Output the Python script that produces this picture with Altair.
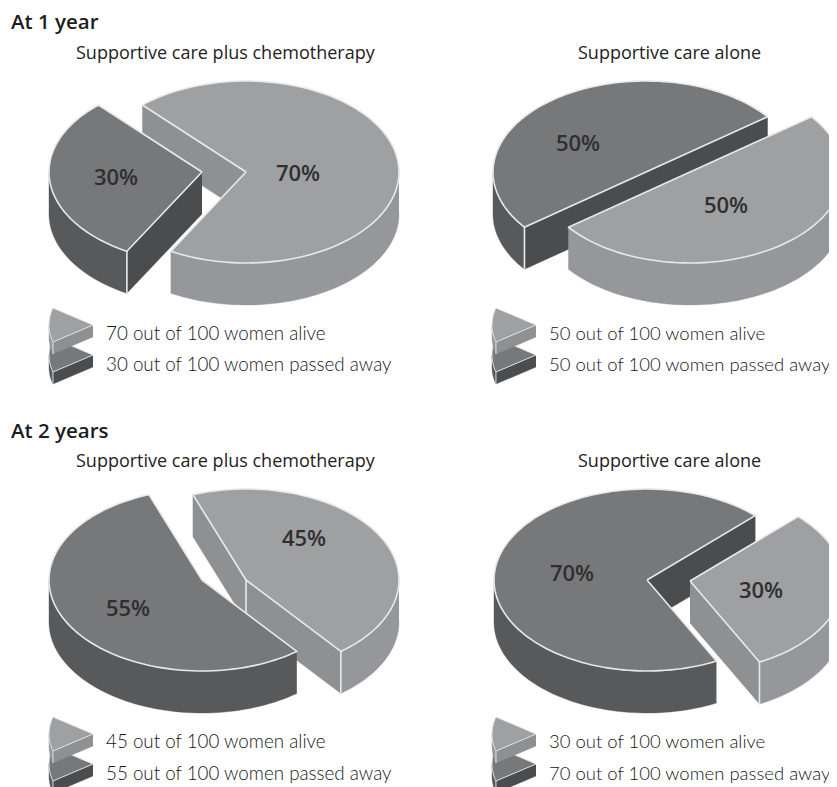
import math
import altair as alt
import pandas as pd

# ---- chart values -------------------------------------------------------
section_titles = ["At 1 year", "At 2 years"]
arm_titles = ["Supportive care plus chemotherapy", "Supportive care alone"]
alive_pct = [70, 50, 45, 30]
passed_pct = [30, 50, 55, 70]
alive_start_deg = [227.4, 322.6, 249.7, 315.0]

# ---- layout -------------------------------------------------------------
alive_centres = [(246, 172), (690, 172), (246, 580), (690, 581)]
passed_centres = [(202, 172), (646, 172), (202, 580), (647, 580)]
passed_on_top = [True, False, True, False]
RX, RY, DEPTH = 153, 91, 42

alive_label_xy = [(298, 174), (726, 206), (304, 539), (761, 591)]
passed_label_xy = [(116, 178), (578, 144), (128, 609), (572, 574)]
legend_xy = [(106, 339.5), (549, 339.5), (106, 748), (549, 748)]
legend_size = [18.8, 18.5, 18.8, 18.5]
icon_xy = [(93, 325), (536, 325), (93, 734), (536, 734)]

ALIVE = dict(top="#9fa0a2", side="#96979a", wall="#8f9092")
PASSED = dict(top="#77787a", side="#58595b", wall="#4b4c4e")
EDGE = "#e9e9ea"

xs = alt.Scale(domain=[8, 829], range=[0, 821], nice=False, zero=False)
ys = alt.Scale(domain=[8, 787], range=[0, 779], nice=False, zero=False)
layers = []


def poly(points, fill=None, stroke=None, width=1.6):
    df = pd.DataFrame([dict(x=p[0], y=p[1], i=i) for i, p in enumerate(points)])
    kw = dict(clip=True, strokeWidth=width, strokeJoin="round")
    if fill:
        kw["fill"] = fill
        kw["stroke"] = stroke or fill
        if not stroke:
            kw["strokeWidth"] = 0.4
    else:
        kw["stroke"] = stroke
    layers.append(
        alt.Chart(df)
        .mark_line(**kw)
        .encode(
            x=alt.X("x:Q", scale=xs, axis=None),
            y=alt.Y("y:Q", scale=ys, axis=None),
            order=alt.Order("i:Q"),
        )
    )


def slice3d(c, t0, t1, rx, ry, depth, col, edge=1.6):
    cx, cy = c

    def pt(t, dz=0):
        a = math.radians(t)
        return (cx + rx * math.cos(a), cy + ry * math.sin(a) + dz)

    def arc(a, b, dz=0):
        n = max(2, int(abs(b - a) / 2))
        return [pt(a + (b - a) * k / n, dz) for k in range(n + 1)]

    half = abs(t1 - t0 - 180) < 1e-6
    vis0 = math.cos(math.radians(t0)) < 0
    vis1 = math.cos(math.radians(t1)) > 0
    if half and (vis0 or vis1):
        poly([pt(t0), pt(t1), pt(t1, depth), pt(t0, depth)], col["wall"])
    else:
        for vis, t in ((vis0, t0), (vis1, t1)):
            if vis:
                poly([(cx, cy), pt(t), pt(t, depth), (cx, cy + depth)], col["wall"])
    for k in (0, 1):
        lo, hi = max(t0, k * 360), min(t1, k * 360 + 180)
        if lo < hi:
            poly(arc(lo, hi) + arc(hi, lo, depth), col["side"])
    top = [(cx, cy)] + arc(t0, t1) + [(cx, cy)]
    poly(top, col["top"], EDGE, edge)
    if vis0 and math.sin(math.radians(t0)) > 0:
        poly([pt(t0), pt(t0, depth)], None, EDGE, edge)
    if vis1 and math.sin(math.radians(t1)) > 0:
        poly([pt(t1), pt(t1, depth)], None, EDGE, edge)
    if vis0 and vis1 and (t1 - t0) < 180:
        poly([(cx, cy), (cx, cy + depth)], None, EDGE, edge)


for i in range(4):
    sweep_a = alive_pct[i] * 3.6
    sweep_p = passed_pct[i] * 3.6
    a = alive_start_deg[i]
    p0 = (a + sweep_a) % 360
    if passed_on_top[i]:
        slice3d(alive_centres[i], a, a + sweep_a, RX, RY, DEPTH, ALIVE)
        slice3d(passed_centres[i], p0, p0 + sweep_p, RX, RY, DEPTH, PASSED)
    else:
        slice3d(passed_centres[i], p0, p0 + sweep_p, RX, RY, DEPTH, PASSED)
        slice3d(alive_centres[i], a, a + sweep_a, RX, RY, DEPTH, ALIVE)
    # legend icons
    ix, iy = icon_xy[i]
    slice3d((ix, iy + 30), 155.5, 204.5, 44, 41, 12, PASSED, 0.9)
    slice3d((ix, iy), 155.5, 204.5, 44, 41, 12, ALIVE, 0.9)


def texts(rows, font, size, weight, color, align="left", baseline="alphabetic"):
    kw = dict(font=font, fontSize=size, fontWeight=weight, color=color, align=align, baseline=baseline)
    layers.append(
        alt.Chart(pd.DataFrame(rows, columns=["x", "y", "t"]))
        .mark_text(**kw)
        .encode(
            x=alt.X("x:Q", scale=xs, axis=None),
            y=alt.Y("y:Q", scale=ys, axis=None),
            text="t:N",
        )
    )


texts([(11, 29, section_titles[0]), (11, 438, section_titles[1])], "Open Sans", 20.5, 600, "#1c1c1e")
texts(
    [
        (76, 58.5, arm_titles[0]), (578, 58.5, arm_titles[1]),
        (76, 467, arm_titles[0]), (578, 467, arm_titles[1]),
    ],
    "Open Sans", 18, 400, "#222224",
)
pct_rows = []
for i in range(4):
    pct_rows.append((*alive_label_xy[i], f"{alive_pct[i]}%"))
    pct_rows.append((*passed_label_xy[i], f"{passed_pct[i]}%"))
texts(pct_rows, "Open Sans", 22, 600, "#2f2f31", "center", "middle")
for i in range(4):
    x, y = legend_xy[i]
    texts(
        [
            (x, y, f"{alive_pct[i]} out of 100 women alive"),
            (x, y + 31.5, f"{passed_pct[i]} out of 100 women passed away"),
        ],
        "Lato", legend_size[i], 300, "#161618",
    )

chart = alt.layer(*layers).properties(
    width=821,
    height=779,
    padding=0,
    autosize=alt.AutoSizeParams(type="none"),
    background="white",
).configure_view(stroke=None)
chart.save("out.html", embed_options={"renderer": "svg", "actions": False})
